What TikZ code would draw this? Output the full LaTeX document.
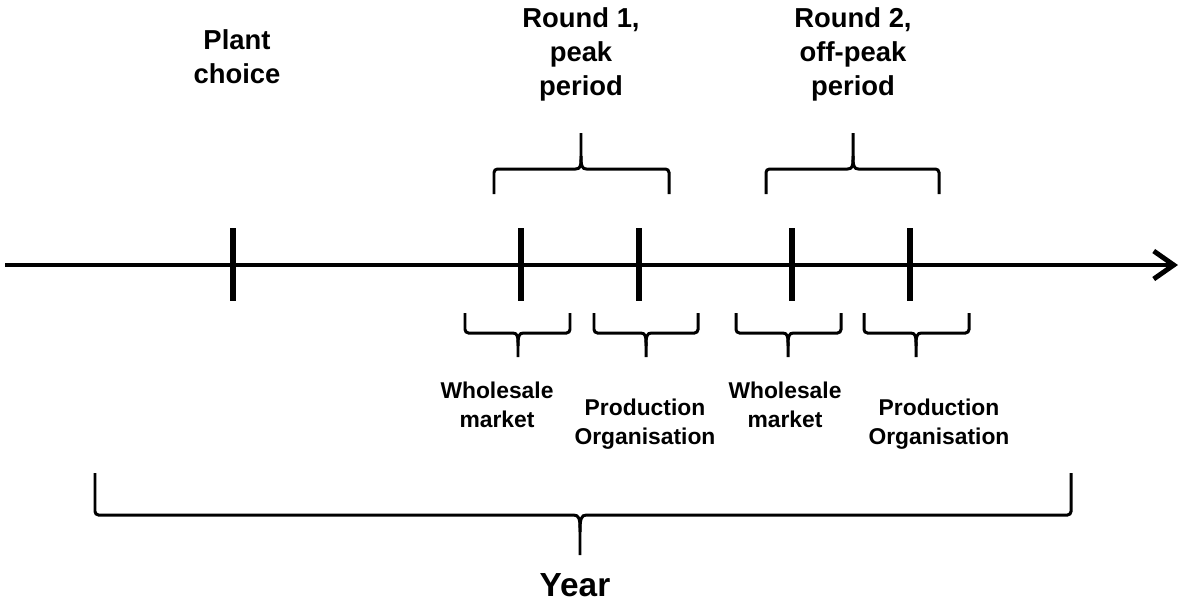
\documentclass[tikz,border=0pt]{standalone}
\usepackage{fontspec}
\setmainfont{Liberation Sans}
\usetikzlibrary{arrows.meta}

\tikzset{
  brace/.style={line width=1.7pt, rounded corners=2pt},
  tick/.style={line width=3.4pt},
  bigtxt/.style={align=center, font=\fontsize{15.6}{19.3}\selectfont\bfseries},
  smalltxt/.style={align=center, font=\fontsize{13}{16.4}\selectfont\bfseries}
}

\begin{document}
\begin{tikzpicture}[x=0.02cm,y=-0.02cm]
  \useasboundingbox (0,0) rectangle (1187,603);

  % time axis
  \coordinate (start) at (5,265);
  \coordinate (end) at (1178,265);
  \draw[line width=2.8pt,-{Straight Barb[length=4mm,width=5.6mm]}] (start) -- (end);

  % ticks
  \foreach \x in {233,521,639,792,910}
    \draw[tick] (\x,228) -- (\x,301);

  % rounds (brace opening downwards)
  \foreach \a/\b/\c in {494/669/581, 766/939/853}{
    \draw[brace] (\a,194) -- (\a,169) -- (\c-9,169) .. controls (\c-1,169) and (\c,166) .. (\c,156) -- (\c,133);
    \draw[brace] (\b,194) -- (\b,169) -- (\c+9,169) .. controls (\c+1,169) and (\c,166) .. (\c,156);
  }

  % stages (brace opening upwards)
  \foreach \a/\b/\c in {465/570/518, 594/698/646, 736/841/788, 864/969/916}{
    \draw[brace] (\a,313) -- (\a,333) -- (\c-9,333) .. controls (\c-1,333) and (\c,336) .. (\c,346) -- (\c,357);
    \draw[brace] (\b,313) -- (\b,333) -- (\c+9,333) .. controls (\c+1,333) and (\c,336) .. (\c,346);
  }

  % year
  \draw[brace] (95,473) -- (95,515) -- (570,515) .. controls (579,515) and (580,519) .. (580,532) -- (580,555);
  \draw[brace] (1071,473) -- (1071,515) -- (590,515) .. controls (581,515) and (580,519) .. (580,532);

  % labels
  \node[bigtxt] (plant) at (237,57) {Plant\\choice};
  \node[bigtxt] (round1) at (581,54) {Round 1,\\peak\\period};
  \node[bigtxt] (round2) at (853,54) {Round 2,\\off-peak\\period};
  \node[smalltxt] (whole1) at (497,405) {Wholesale\\market};
  \node[smalltxt] (prod1) at (645,424) {Production\\Organisation};
  \node[smalltxt] (whole2) at (785,405) {Wholesale\\market};
  \node[smalltxt] (prod2) at (939,424) {Production\\Organisation};
  \node[font=\fontsize{19}{22}\selectfont\bfseries] (year) at (575,585) {Year};

\end{tikzpicture}
\end{document}
